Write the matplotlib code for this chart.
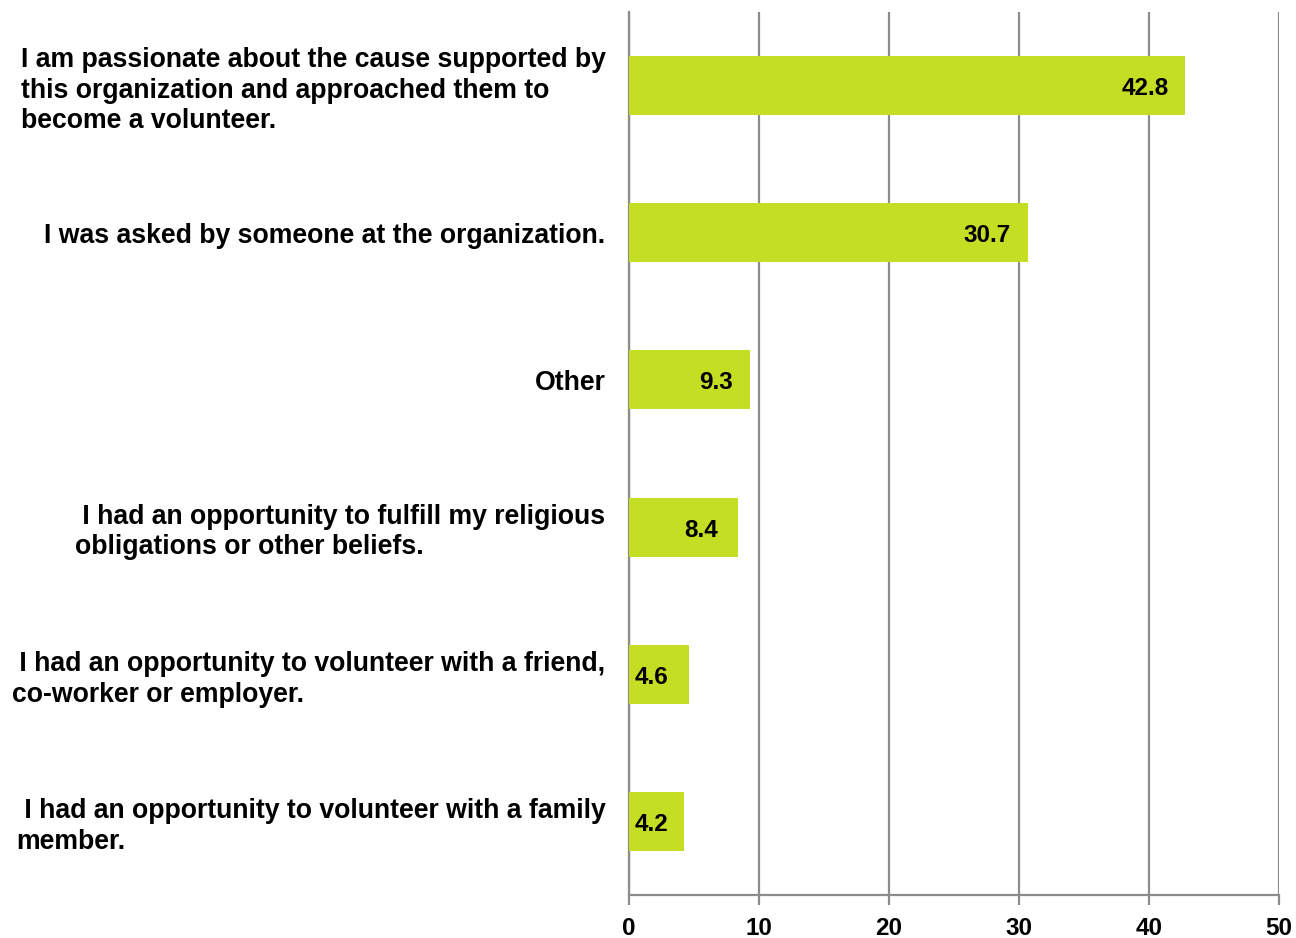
import matplotlib.pyplot as plt

plt.rcParams['font.family'] = ['Liberation Sans', 'DejaVu Sans']
plt.rcParams['font.weight'] = 'bold'

labels = [
    "I am passionate about the cause supported by\nthis organization and approached them to\nbecome a volunteer.",
    "I was asked by someone at the organization.",
    "Other",
    " I had an opportunity to fulfill my religious\nobligations or other beliefs.",
    " I had an opportunity to volunteer with a friend,\nco-worker or employer.",
    " I had an opportunity to volunteer with a family\nmember.",
]
values = [42.8, 30.7, 9.3, 8.4, 4.6, 4.2]
xticks = [0, 10, 20, 30, 40, 50]

bar_color = '#c4de24'
grid_color = '#8c8c8c'

fig = plt.figure(figsize=(12.96, 9.38), dpi=100)
ax = fig.add_axes([629 / 1296, 43 / 938, 650 / 1296, 883 / 938])

ypos = list(range(len(values)))
ax.barh(ypos, values, height=0.4, color=bar_color, zorder=3)

# value labels: inside the bar end for long bars, at the start for short ones
for y, v in zip(ypos, values):
    if v > 9:
        ax.text(v - 1.3, y + 0.02, f"{v}", ha='right', va='center', fontsize=17.5, fontweight='bold', zorder=4)
    elif v > 6:
        ax.text(v - 2.85, y + 0.02, f"{v}", ha='center', va='center', fontsize=17.5, fontweight='bold', zorder=4)
    else:
        ax.text(0.45, y + 0.02, f"{v}", ha='left', va='center', fontsize=17.5, fontweight='bold', zorder=4)

ax.set_xlim(0, 50)
ax.set_ylim(len(values) - 0.5, -0.5)
ax.set_xticks(xticks)
ax.set_xticklabels([str(t) for t in xticks], fontsize=17.5, fontweight='bold')
ax.set_yticks(ypos)
ax.set_yticklabels(labels, fontsize=19.2, fontweight='bold', linespacing=1.22,
                   multialignment='left')

ax.xaxis.grid(True, color=grid_color, linewidth=1.6, zorder=0)
ax.tick_params(axis='x', length=7, width=1.6, color=grid_color, pad=9, direction='out')
ax.tick_params(axis='y', length=0, pad=17)

for s in ['top', 'right']:
    ax.spines[s].set_visible(False)
for s in ['left', 'bottom']:
    ax.spines[s].set_color(grid_color)
    ax.spines[s].set_linewidth(1.6)

fig.savefig('out.png', dpi=100)
